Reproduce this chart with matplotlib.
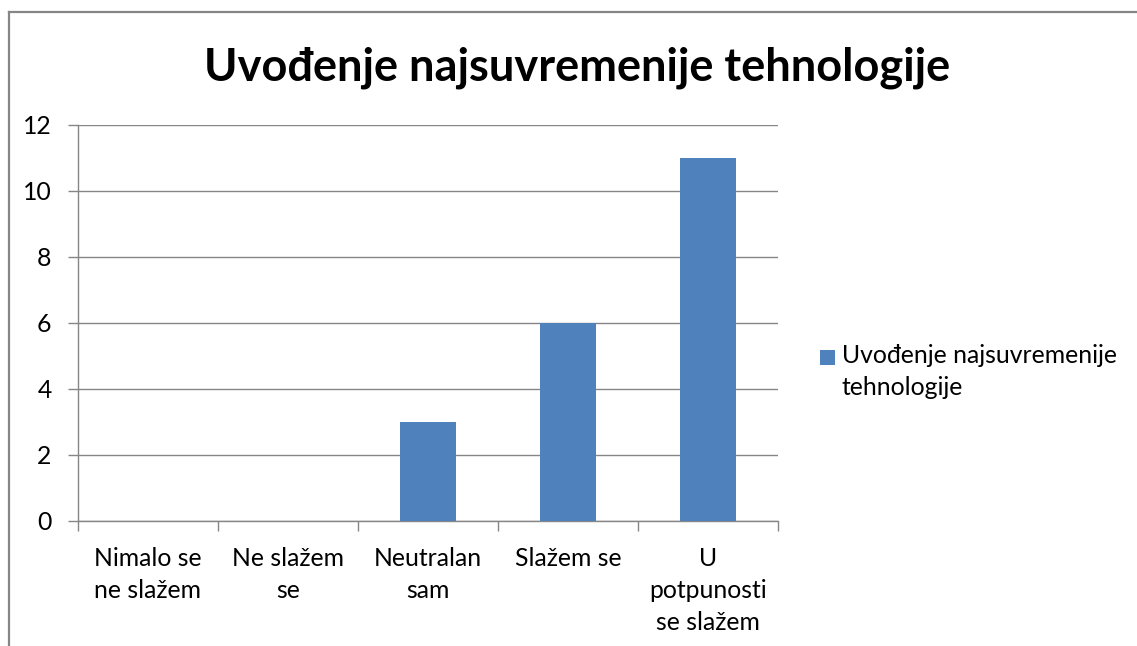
import matplotlib
matplotlib.use("Agg")
import matplotlib.pyplot as plt
from matplotlib.lines import Line2D
from matplotlib.patches import Rectangle

categories = ["Nimalo se\nne slažem", "Ne slažem\nse", "Neutralan\nsam", "Slažem se", "U\npotpunosti\nse slažem"]
values = [0, 0, 3, 6, 11]
yticks = [0, 2, 4, 6, 8, 10, 12]
title = "Uvođenje najsuvremenije tehnologije"
legend_label = "Uvođenje najsuvremenije\ntehnologije"

plt.rcParams['font.family'] = ['Lato', 'DejaVu Sans']
W, H = 1137, 646
fig = plt.figure(figsize=(W / 100, H / 100), dpi=100)
fig.patch.set_facecolor("white")

grey = "#868686"
blue = "#4F81BD"
fs = 17.8

# outer chart border (top and left visible)
fig.add_artist(Line2D([9 / W, 1.0], [1 - 12 / H, 1 - 12 / H], color=grey, lw=1.6))
fig.add_artist(Line2D([9 / W, 9 / W], [0, 1 - 12 / H], color=grey, lw=1.6))

x0, x1, ytop, ybot = 78, 778, 124.5, 521
ax = fig.add_axes([x0 / W, 1 - ybot / H, (x1 - x0) / W, (ybot - ytop) / H])
xs = list(range(len(categories)))
bars = ax.bar(xs, values, width=0.4, color=blue, zorder=3, label=legend_label)
ax.set_xlim(-0.5, len(categories) - 0.5)
ax.set_ylim(0, 12)
ax.set_yticks(yticks)
ax.yaxis.grid(True, color=grey, lw=1.0)
ax.set_axisbelow(True)
for s in ["top", "right"]:
    ax.spines[s].set_visible(False)
for s in ["left", "bottom"]:
    ax.spines[s].set_color(grey)
    ax.spines[s].set_linewidth(1.0)
ax.tick_params(axis="y", length=7, color=grey, width=1.0, labelsize=fs, pad=12)
ax.set_xticks(xs)
ax.set_xticklabels(categories, fontsize=fs, linespacing=1.48, va="top")
ax.tick_params(axis="x", which="major", length=0, pad=18.5)
ax.set_xticks([i - 0.5 for i in range(len(categories) + 1)], minor=True)
ax.tick_params(axis="x", which="minor", length=7, color=grey, width=1.0)

fig.text(577 / W, 1 - 68 / H, title, fontsize=32.5, fontweight="bold", ha="center", va="center")

# legend (square aligned with first text line, as in the original)
fig.add_artist(Rectangle((820 / W, 1 - 365 / H), 15 / W, 15 / H, transform=fig.transFigure,
                         facecolor=blue, edgecolor="none"))
fig.text(842 / W, 1 - 344 / H, legend_label, fontsize=fs, ha="left", va="top", linespacing=1.48)

fig.savefig("out.png", dpi=100)
